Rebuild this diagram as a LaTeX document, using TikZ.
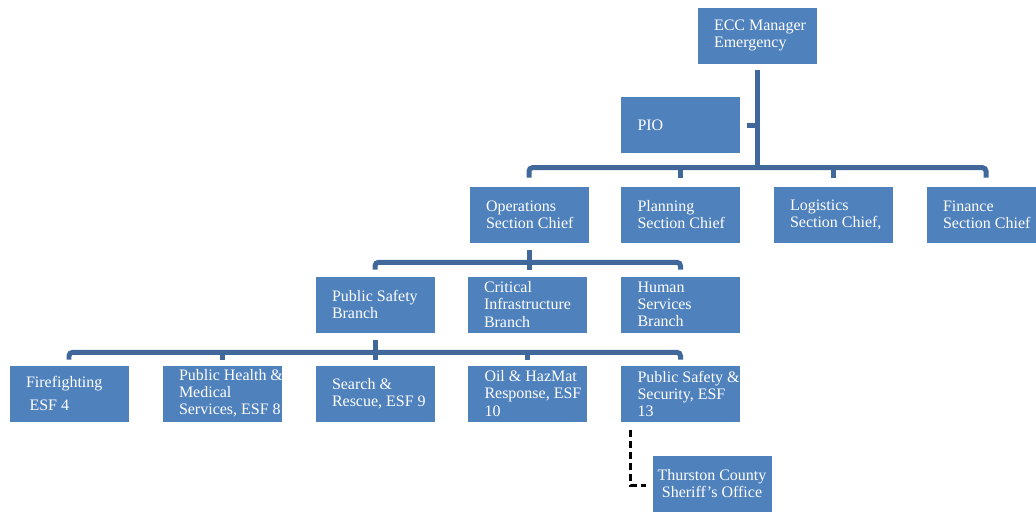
\documentclass[tikz,border=0pt]{standalone}
\usepackage{fontspec}
\setmainfont{Liberation Serif}
\usetikzlibrary{calc}
\definecolor{unitblue}{RGB}{79,129,189}
\definecolor{busblue}{RGB}{64,104,154}
\tikzset{>=latex,
	unitbox/.style = {rectangle, fill = unitblue, draw = white, line width = 0.4pt, minimum width = 2.4cm, minimum height = 1.14cm, inner sep = 0pt},
	unittext/.style = {anchor = west, align = left, inner sep = 0pt, text = white, font = \fontsize{9.1}{9.7}\selectfont},
	bus/.style = {draw = busblue, line width = 0.1cm, rounded corners = 2pt},
	sheriffline/.style = {draw = black, line width = 0.055cm, dashed, dash pattern = on 0.14cm off 0.08cm}}
\newcommand\unit[3]{{\node[unitbox] (#1) at (#2) {}; \node[unittext] (#1t) at ([xshift = 0.34cm]#1.west) {#3};}}

\begin{document}
\begin{tikzpicture}[x = 0.02cm, y = -0.02cm]
	\useasboundingbox (0, 0) rectangle (1036, 512);
	\unit{ecc}{757, 35.5}{ECC Manager\\Emergency}
	\unit{pio}{680.5, 125}{PIO}
	\unit{ops}{529, 214.5}{Operations\\Section Chief}
	\unit{plan}{680.5, 214.5}{Planning\\Section Chief}
	\unit{log}{833, 214.5}{Logistics\\Section Chief,}
	\unit{fin}{986, 214.5}{Finance\\Section Chief}
	\unit{psb}{375, 304.5}{Public Safety\\Branch}
	\unit{crit}{527, 304.5}{Critical\\Infrastructure\\Branch}
	\unit{hum}{680.5, 304.5}{Human\\Services\\Branch}
	\unit{fire}{69, 393.5}{Firefighting\\[3.4pt]\hspace{2pt}ESF 4}
	\unit{ph}{222, 393.5}{Public Health \&\\Medical\\Services, ESF 8}
	\unit{search}{375, 393.5}{Search \&\\Rescue, ESF 9}
	\unit{oil}{527.5, 393.5}{Oil \& HazMat\\Response, ESF\\10}
	\unit{pss}{680.5, 393.5}{Public Safety \&\\Security, ESF\\13}
	\node[unitbox, text = white, align = center, font = \fontsize{9.1}{9.7}\selectfont] (sher) at (712, 483.5) {Thurston County\\Sheriff's Office};
	\draw[bus] ($(ecc.south) + (0, 6)$) -- ($(ecc.south |- ops.north) + (0, -18)$);
	\draw[bus] ($(pio.east) + (6, 0)$) -- (pio.east -| ecc.south);
	\draw[bus] ($(ops.north) + (0, -8)$) -- ++(0, -10) -| ($(fin.north) + (0, -8)$);
	\draw[bus] ($(plan.north) + (0, -18)$) -- ++(0, 10);
	\draw[bus] ($(log.north) + (0, -18)$) -- ++(0, 10);
	\draw[bus] ($(psb.north) + (0, -6)$) |- ($(ops.south) + (0, 19)$) -| ($(hum.north) + (0, -6)$);
	\draw[bus] ($(ops.south) + (0, 7)$) -- ($(ops.south |- crit.north) + (0, -6)$);
	\draw[bus] ($(fire.north) + (0, -5)$) |- ($(psb.south) + (0, 19)$) -| ($(pss.north) + (0, -5)$);
	\draw[bus] ($(psb.south) + (0, 7)$) -- ($(search.north) + (0, -5)$);
	\draw[bus] ($(ph.north) + (0, -5)$) -- ++(0, -8);
	\draw[bus] ($(oil.north) + (0, -5)$) -- ++(0, -8);
	\draw[sheriffline] ($(pss.south west) + (10, 8)$) |- ($(sher.west) + (-6, 2)$);
\end{tikzpicture}
\end{document}
